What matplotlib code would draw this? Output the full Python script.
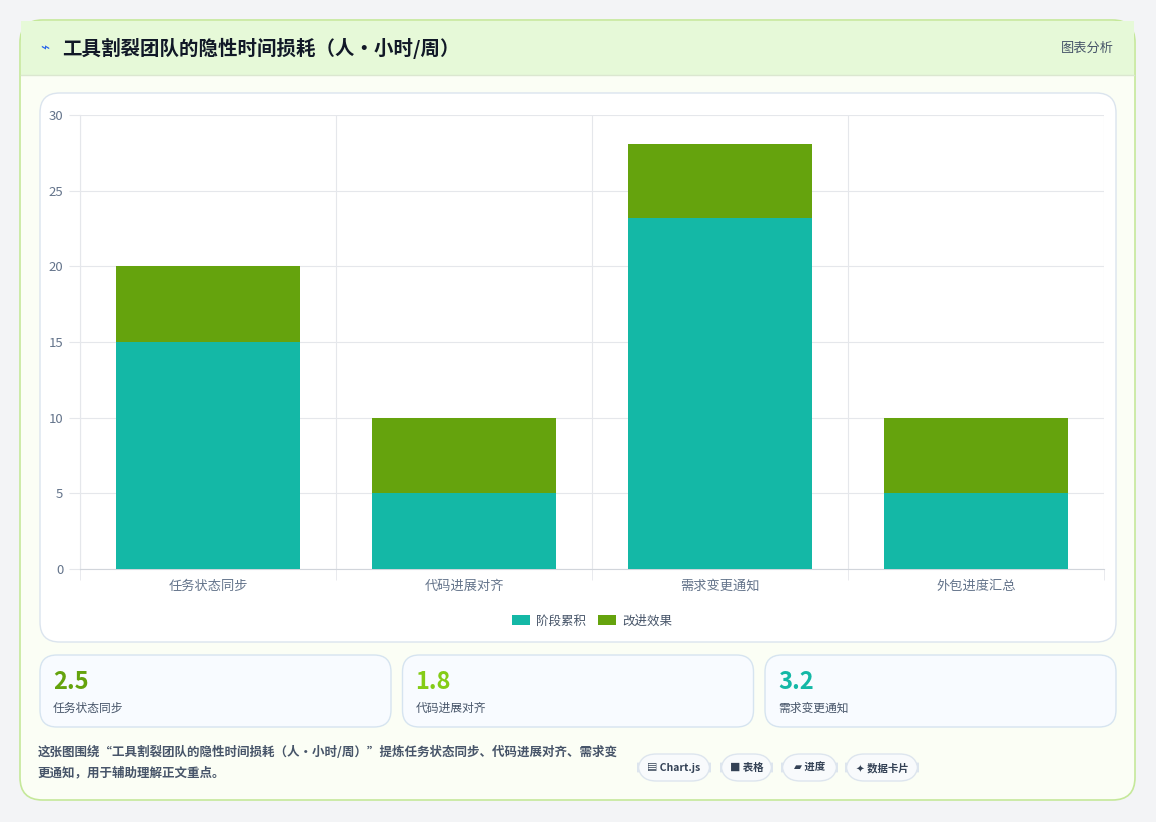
import matplotlib
matplotlib.use("Agg")
import matplotlib.pyplot as plt
from matplotlib.patches import FancyBboxPatch, Rectangle

plt.rcParams['font.family'] = ['Noto Sans CJK SC', 'DejaVu Sans']

categories = ["任务状态同步", "代码进展对齐", "需求变更通知", "外包进度汇总"]
stage = [15, 5, 23.2, 5]
improve = [5, 5, 4.9, 5]
series_names = ["阶段累积", "改进效果"]
kpi_values = ["2.5", "1.8", "3.2"]
kpi_labels = ["任务状态同步", "代码进展对齐", "需求变更通知"]
kpi_colors = ["#65a30d", "#84cc16", "#14b8a6"]
chips = ["▤ Chart.js", "■ 表格", "▰ 进度", "✦ 数据卡片"]
title = "工具割裂团队的隐性时间损耗（人·小时/周）"
note = "这张图围绕“工具割裂团队的隐性时间损耗（人·小时/周）”提炼任务状态同步、代码进展对齐、需求变更通知，用于辅助理解正文重点。"

W, H = 1156, 822
fig = plt.figure(figsize=(W / 100, H / 100), dpi=100)
fig.patch.set_facecolor("#f3f4f6")


def px(x, y, w, h):
    return (x / W, 1 - (y + h) / H, w / W, h / H)


def box(x, y, w, h, fc, ec, r=12, lw=1.0, z=0):
    X, Y, ww, hh = px(x, y, w, h)
    p = FancyBboxPatch((X, Y), ww, hh, boxstyle="round,pad=0,rounding_size=%f" % (r / H),
                       transform=fig.transFigure, facecolor=fc, edgecolor=ec, lw=lw, zorder=z,
                       mutation_aspect=W / H)
    fig.patches.append(p)


def txt(x, y, s, **kw):
    fig.text(x / W, 1 - y / H, s, **kw)


# outer card
box(20, 20, 1115, 780, "#fbfef5", "#c5e89a", r=16, lw=1.2)
# header band
X, Y, ww, hh = px(21, 21, 1113, 54)
fig.patches.append(Rectangle((X, Y), ww, hh, transform=fig.transFigure,
                             facecolor="#e6f9d8", edgecolor="none", zorder=1))
fig.add_artist(plt.Line2D([21 / W, 1134 / W], [1 - 75 / H] * 2, color="#dbe7d0", lw=1))
txt(40, 48, "⌁", fontsize=11, color="#2563eb", va="center")
txt(62, 48, title, fontsize=14, fontweight="bold", color="#111827", va="center")
txt(1114, 48, "图表分析", fontsize=9.5, color="#475569", va="center", ha="right")

# chart card
box(40, 93, 1076, 549, "white", "#dbe4ee", r=14)

ax = fig.add_axes([80 / W, 1 - 569 / H, 1024 / W, 454 / H])
ax.set_zorder(5)
xs = range(len(categories))
ax.bar(xs, stage, width=0.72, color="#14b8a6", label=series_names[0], zorder=3)
ax.bar(xs, improve, width=0.72, bottom=stage, color="#65a30d", label=series_names[1], zorder=3)
ax.set_xlim(-0.5, 3.5)
ax.set_ylim(0, 30)
ax.set_yticks(range(0, 31, 5))
ax.set_xticks(list(xs))
ax.set_xticklabels(categories)
ax.set_xticks([i + 0.5 for i in range(-1, 4)], minor=True)
ax.grid(True, which="major", axis="y", color="#e5e7eb", lw=0.8, zorder=0)
ax.grid(True, which="minor", axis="x", color="#e5e7eb", lw=0.8, zorder=0)
ax.tick_params(axis="both", which="major", labelsize=9.5, colors="#64748b", length=0, pad=8)
ax.tick_params(axis="x", which="minor", length=8, color="#e5e7eb")
ax.tick_params(axis="y", which="major", length=8, color="#e5e7eb", pad=4)
for s in ax.spines.values():
    s.set_visible(False)
ax.spines["bottom"].set_visible(True)
ax.spines["bottom"].set_color("#d1d5db")
ax.spines["left"].set_visible(True)
ax.spines["left"].set_color("#e5e7eb")
ax.legend(loc="upper center", bbox_to_anchor=(0.5, -0.075), ncol=2, frameon=False,
          fontsize=9, handlelength=1.4, handleheight=0.9, columnspacing=1.0,
          labelcolor="#475569", handletextpad=0.5)

# kpi cards
for i, (v, lab, c) in enumerate(zip(kpi_values, kpi_labels, kpi_colors)):
    x0 = 40 + i * 362.5
    box(x0, 655, 351, 72, "#f8fbff", "#d6e4f0", r=12)
    txt(x0 + 13, 682, v, fontsize=17, fontweight="bold", color=c, va="center")
    txt(x0 + 13, 708, lab, fontsize=8.5, color="#475569", va="center")

txt(38, 752, note[:47], fontsize=9, color="#475569", va="center", fontweight="bold")
txt(38, 773, note[47:], fontsize=9, color="#475569", va="center", fontweight="bold")

chip_x = [638, 721, 782, 846]
chip_w = [72, 51, 55, 72]
for cx, cw, s in zip(chip_x, chip_w, chips):
    box(cx, 754, cw, 27, "#f8fafc", "#dde5ee", r=13)
    txt(cx + cw / 2, 768, s, fontsize=7.5, color="#334155", ha="center", va="center",
        fontweight="bold")

fig.savefig("out.png", dpi=100)
